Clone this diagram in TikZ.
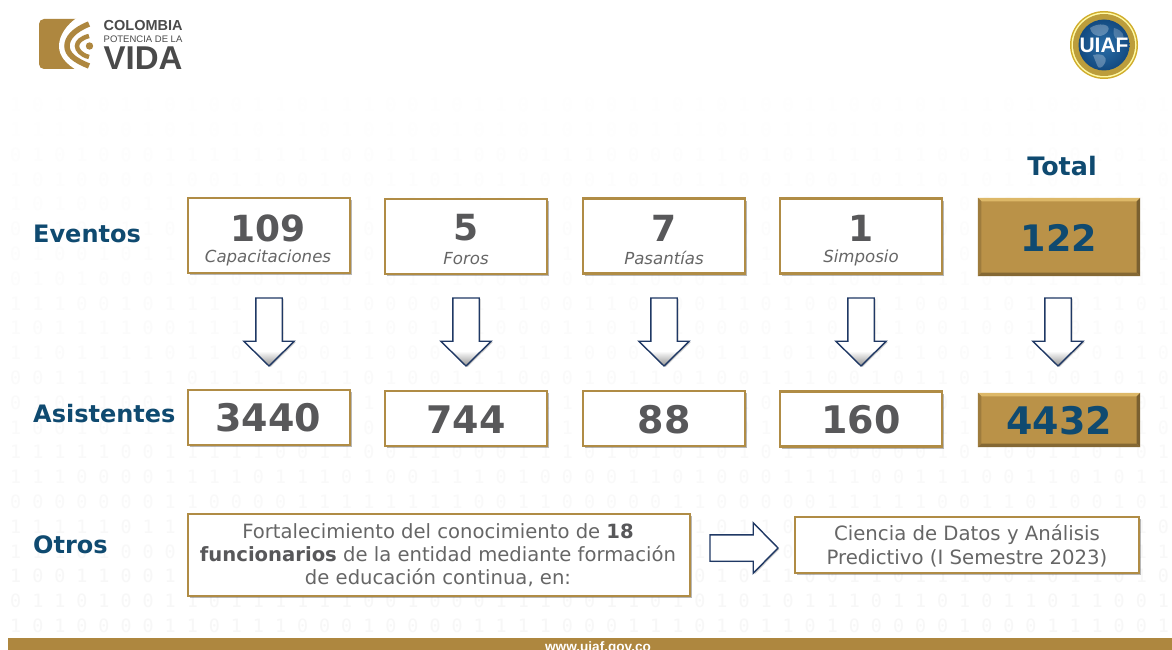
\documentclass[tikz,border=0pt]{standalone}
\usepackage{fontspec}
\setmainfont{DejaVu Sans}
\setmonofont{DejaVu Sans Mono}
\newfontfamily\logof{Liberation Sans}
\usetikzlibrary{shapes.arrows,shadows,calc}
\definecolor{gold}{HTML}{B08C45}
\definecolor{goldfill}{HTML}{BA9248}
\definecolor{goldtop}{HTML}{DDB868}
\definecolor{goldright}{HTML}{7A6030}
\definecolor{navy}{HTML}{0F4A70}
\definecolor{numgray}{HTML}{58585A}
\definecolor{capgray}{HTML}{666666}
\definecolor{arrowblue}{HTML}{1F3864}
\definecolor{logogray}{HTML}{4A4A4A}
\definecolor{logogold}{HTML}{AE873F}
\definecolor{sealin}{HTML}{2A6EA8}
\definecolor{sealout}{HTML}{134A80}
\pgfdeclareverticalshading{arrowshade}{100bp}{color(0bp)=(gray);color(25bp)=(gray!85);color(36bp)=(white);color(100bp)=(white)}
\newcommand{\fs}[1]{\fontsize{#1}{#1}\selectfont}
\tikzset{
  whitebox/.style={draw=gold,line width=2.6pt,fill=white,inner sep=0pt,
    general shadow={shadow xshift=2pt,shadow yshift=-2pt,fill=black,opacity=.28}},
  goldbox/.style={fill=goldfill,inner sep=0pt},
  sidelabel/.style={anchor=west,inner sep=0pt,text=navy,font=\bfseries\fs{24}},
  numtext/.style={inner sep=0pt,text=numgray,font=\bfseries\fs{36}},
  captext/.style={inner sep=0pt,text=capgray,font=\itshape\fs{16.6}},
  downarrow/.style={single arrow,shape border rotate=270,draw=arrowblue,line width=1.4pt,
    shading=arrowshade,minimum height=68pt,inner sep=12.5pt,
    single arrow head extend=12pt,single arrow tip angle=91,
    general shadow={shadow xshift=1.5pt,shadow yshift=-1pt,fill=black,opacity=.22}},
  bodytext/.style={inner sep=0pt,text=capgray,font=\fs{19.6},align=center},
  bgrow/.style={anchor=west,inner sep=0pt,font=\ttfamily\fs{18.33}},
}
\newcommand{\bevel}[1]{%
  \fill[goldtop] (#1.north west) -- (#1.north east) -- ($(#1.north east)+(-3.5,3.5)$) -- ($(#1.north west)+(3.5,3.5)$) -- cycle;
  \fill[goldfill!85!black] (#1.north west) -- ($(#1.north west)+(3.5,3.5)$) -- ($(#1.south west)+(3.5,-3.5)$) -- (#1.south west) -- cycle;
  \fill[goldright] (#1.north east) -- ($(#1.north east)+(-3.5,3.5)$) -- ($(#1.south east)+(-3.5,-3.5)$) -- (#1.south east) -- cycle;
  \fill[goldright!85!goldfill] (#1.south west) -- ($(#1.south west)+(3.5,-3.5)$) -- ($(#1.south east)+(-3.5,-3.5)$) -- (#1.south east) -- cycle;
}
\begin{document}
\begin{tikzpicture}[x=1pt,y=-1pt]
\useasboundingbox (0,0) rectangle (1172,650);
\fill[white] (0,0) rectangle (1172,650);
% faint binary background
\foreach \digits [count=\r from 0] in {
1 0 1 0 0 1 1 0 1 0 0 1 1 0 1 1 1 0 0 1 0 1 1 0 1 0 0 0 1 1 0 1 0 1 0 0 1 1 0 0 1 0 1 1 1 0 1 0 0 1 1 0 1,
1 1 1 1 0 0 1 0 1 0 1 0 1 1 0 1 0 1 0 0 1 0 1 0 1 0 1 0 0 1 1 1 0 1 0 1 1 0 1 1 0 0 1 1 0 1 1 1 1 0 1 1 0,
0 1 0 1 0 0 0 1 1 1 1 1 1 1 1 0 0 1 1 1 1 0 0 0 1 1 1 0 0 0 0 1 1 0 1 0 1 1 1 1 1 1 0 0 1 1 1 0 0 1 0 1 1,
1 0 1 0 0 0 0 1 0 0 1 1 0 0 1 0 0 1 1 0 1 0 1 1 0 0 0 1 0 1 0 1 1 0 0 1 0 0 1 0 1 1 0 1 0 1 1 0 0 1 1 1 0,
1 0 1 0 0 0 1 1 1 0 1 0 0 0 1 1 1 0 0 1 0 1 0 1 1 0 1 1 1 0 1 0 1 0 0 1 1 0 0 0 1 1 1 0 0 1 0 1 1 1 0 1 1,
0 0 1 0 1 1 1 0 1 0 0 1 1 0 1 1 0 1 0 1 0 0 1 1 1 0 1 0 0 1 1 0 1 0 0 0 1 0 1 1 0 1 0 0 0 1 1 0 1 0 1 1 1,
0 1 0 0 1 0 1 1 0 1 0 1 1 1 0 1 0 0 0 1 1 0 1 0 0 1 1 0 1 1 1 0 1 0 1 0 1 1 0 1 0 0 1 0 1 1 1 0 0 1 1 0 1,
0 1 0 1 0 0 0 1 0 1 0 0 0 0 0 0 1 0 1 1 1 0 0 0 0 0 0 1 1 0 0 0 1 1 1 0 1 1 0 0 1 1 1 1 0 0 1 1 1 1 0 1 1,
1 1 1 0 0 1 0 1 1 1 1 1 1 0 1 1 0 0 0 0 1 1 1 1 0 0 1 1 0 1 0 0 1 1 0 1 0 0 0 1 1 0 0 1 1 0 1 0 0 1 1 0 1,
1 0 1 1 1 1 0 0 1 1 1 1 1 1 0 1 1 0 0 1 0 1 0 0 0 1 1 0 1 0 1 0 0 0 0 1 1 0 1 1 1 0 0 1 0 0 1 1 0 1 0 1 1,
1 1 0 1 1 1 1 0 1 1 0 1 0 0 0 1 1 0 0 0 0 1 0 1 1 1 0 0 0 0 1 0 1 1 1 0 1 0 0 0 1 1 0 0 1 1 0 1 0 0 1 1 0,
0 0 1 1 1 1 1 1 0 1 1 1 1 0 1 1 0 1 0 0 1 1 1 0 0 0 1 0 1 1 0 1 0 0 1 1 1 0 0 1 0 1 1 0 1 1 1 0 0 1 0 1 0,
0 1 0 1 1 0 0 1 1 0 0 0 1 1 0 1 1 1 0 0 1 0 1 0 1 1 0 1 0 0 1 1 0 1 0 1 1 1 0 0 1 0 0 1 1 0 1 1 0 1 0 0 1,
1 0 0 1 0 1 1 1 0 1 0 0 1 1 0 1 0 0 1 1 1 0 1 0 0 1 0 1 1 0 0 1 1 0 1 0 0 1 0 1 1 0 1 1 0 0 1 0 1 1 0 1 0,
1 1 1 1 1 0 0 1 1 1 1 1 0 0 1 1 0 0 1 1 0 0 0 1 1 1 0 1 0 1 0 1 0 1 0 1 1 0 0 0 0 0 1 0 1 0 0 1 1 0 1 0 1,
1 1 1 0 0 0 0 1 1 1 1 0 1 1 1 0 1 0 0 1 1 1 0 1 0 0 0 0 1 1 0 1 0 0 0 1 1 1 1 0 0 1 1 1 0 0 1 1 0 1 0 1 1,
0 0 0 0 0 0 0 1 1 0 0 0 0 1 1 1 1 1 1 1 1 0 0 1 1 0 0 0 0 0 1 1 0 0 0 0 0 1 1 1 1 1 0 0 1 1 0 1 0 0 1 0 1,
1 1 1 1 1 0 1 1 0 1 1 0 0 1 0 1 0 1 1 0 0 0 1 0 1 1 1 0 0 1 0 1 0 1 1 0 1 0 0 1 1 1 0 1 0 1 1 0 1 1 0 1 0,
1 1 1 0 1 0 0 0 1 0 1 1 0 1 0 1 1 0 1 0 0 1 1 1 0 0 1 0 1 0 1 1 0 1 1 0 0 1 0 1 0 0 1 1 1 0 1 0 1 1 0 1 1,
1 0 0 1 1 0 0 1 0 1 1 1 0 1 1 0 1 0 0 1 0 1 1 1 0 1 0 1 1 0 0 0 1 0 1 1 0 0 1 1 0 1 1 1 0 0 1 0 1 1 0 1 0,
0 1 1 0 1 0 0 1 1 0 1 1 1 1 1 1 0 0 1 0 0 0 1 1 1 0 0 1 1 0 1 0 1 0 1 0 1 1 1 0 1 1 0 1 0 1 1 0 1 1 0 0 1,
1 0 1 0 0 0 0 1 1 0 1 1 1 0 0 0 1 0 0 0 0 1 1 1 1 0 0 0 1 1 1 0 1 0 1 1 0 1 0 0 0 0 0 1 0 0 0 1 1 1 0 0 1}
{
  \pgfmathsetmacro{\ink}{0.3+0.14*\r}
  \node[bgrow,text=black!\ink] (binrow\r) at (10,105+24.8*\r) {\digits};
}
% footer
\fill[logogold] (8,637.5) rectangle (1172,650);
\node[inner sep=0pt,anchor=base,text=white,font=\logof\bfseries\fs{13.6}] (web) at (598,651) {www.uiaf.gov.co};
% Colombia logo
\fill[logogold,rounded corners=5pt] (39,19) rectangle (89,69);
\fill[white] (78,17) .. controls (66,25) and (59,36) .. (59,46) .. controls (59,56) and (66,64) .. (78,71) -- (92,71) -- (92,17) -- cycle;
\draw[logogold,line width=5.5pt] (89,24) .. controls (74,30) and (67,38) .. (67,46) .. controls (67,54) and (74,60) .. (89,66);
\draw[logogold,line width=4.5pt] (89,36) .. controls (81,38) and (77,42) .. (77,46) .. controls (77,50) and (81,55) .. (89,57);
\fill[logogold] (89.5,46) circle (3.7);
\node[anchor=west,inner sep=0pt,text=logogray,font=\logof\bfseries\fs{14.5}] (col) at (103.5,26) {COLOMBIA};
\node[anchor=west,inner sep=0pt,text=logogray,font=\logof\fs{9.5}] (pot) at (103.5,39) {POTENCIA DE LA};
\node[anchor=west,inner sep=0pt,text=logogray,font=\logof\bfseries\fs{33}] (vida) at (103.5,58) {VIDA};
% UIAF seal
\fill[color=yellow!60!orange!80!black] (1104,45) circle (34);
\fill[color=yellow!35!white] (1104,45) circle (32.5);
\fill[color=gold!85!yellow] (1104,45) circle (31);
\shade[inner color=sealin,outer color=sealout] (1104,45) circle (25.5);
\fill[color=white,opacity=.28] (1090,28) .. controls (1098,22) and (1112,24) .. (1108,31) .. controls (1104,38) and (1092,38) .. (1090,28) -- cycle;
\fill[color=white,opacity=.28] (1093,55) .. controls (1102,53) and (1108,56) .. (1105,63) .. controls (1102,69) and (1098,69) .. (1097,65) -- cycle;
\fill[color=white,opacity=.22] (1114,28) .. controls (1122,30) and (1126,36) .. (1122,40) .. controls (1116,42) and (1112,36) .. (1114,28) -- cycle;
\node[inner sep=0pt,text=white,font=\logof\bfseries\fs{21}] (uiaf) at (1104,45) {UIAF};
% side labels
\node[sidelabel] (eventos) at (33,234) {Eventos};
\node[sidelabel] (asistentes) at (33,414) {Asistentes};
\node[sidelabel] (otros) at (33,545) {Otros};
\node[inner sep=0pt,text=navy,font=\bfseries\fs{25.4}] (total) at (1062,166) {Total};
% event boxes
\node[whitebox,minimum width=162pt,minimum height=75pt] (b1) at (269,235.5) {};
\node[whitebox,minimum width=162pt,minimum height=75pt] (b2) at (466,236.5) {};
\node[whitebox,minimum width=162pt,minimum height=75pt] (b3) at (664,236) {};
\node[whitebox,minimum width=162pt,minimum height=75pt] (b4) at (861,236) {};
\node[goldbox,minimum width=162pt,minimum height=78pt] (t1) at (1059,237) {};
\bevel{t1}
\node[inner sep=0pt,text=navy,font=\bfseries\fs{36.5}] (t1n) at (1059,238) {122};
\node[numtext] (n1) at (268,228) {109};
\node[captext] (c1) at (268,258) {Capacitaciones};
\node[numtext] (n2) at (466,228) {5};
\node[captext] (c2) at (466,259) {Foros};
\node[numtext] (n3) at (664,228) {7};
\node[captext] (c3) at (664,258) {Pasantías};
\node[numtext] (n4) at (861,228) {1};
\node[captext] (c4) at (861,258) {Simposio};
% attendee boxes
\node[whitebox,minimum width=162pt,minimum height=55pt] (a1) at (269,417.5) {};
\node[whitebox,minimum width=162pt,minimum height=55pt] (a2) at (466,418.5) {};
\node[whitebox,minimum width=162pt,minimum height=55pt] (a3) at (664,418.5) {};
\node[whitebox,minimum width=162pt,minimum height=55pt] (a4) at (861,419) {};
\node[goldbox,minimum width=162pt,minimum height=54pt] (t2) at (1059,420) {};
\bevel{t2}
\node[inner sep=0pt,text=navy,font=\bfseries\fs{38}] (t2n) at (1059,421) {4432};
\node[numtext,font=\bfseries\fs{38}] (m1) at (268,418) {3440};
\node[numtext,font=\bfseries\fs{38}] (m2) at (466,420) {744};
\node[numtext,font=\bfseries\fs{38}] (m3) at (664,420) {88};
\node[numtext,font=\bfseries\fs{38}] (m4) at (861,420) {160};
% block arrows
\node[downarrow] (d1) at (269,325.5) {};
\node[downarrow] (d2) at (466,325.5) {};
\node[downarrow] (d3) at (664,325.5) {};
\node[downarrow] (d4) at (861,325.5) {};
\node[downarrow] (d5) at (1058,325.5) {};
% others
\node[whitebox,minimum width=502pt,minimum height=82pt] (o1) at (439,555) {};
\node[bodytext] (o1t) at (438,555) {Fortalecimiento del conocimiento de {\bfseries\color{numgray}18}\\[3.4pt]{\bfseries\color{numgray}funcionarios} de la entidad mediante formación\\[3.4pt]de educación continua, en:};
\node[single arrow,draw=arrowblue,line width=1.4pt,fill=white,minimum height=68pt,inner sep=12.5pt,
  single arrow head extend=12pt,single arrow tip angle=91,
  general shadow={shadow xshift=1.5pt,shadow yshift=-1pt,fill=black,opacity=.22}] (r1) at (737.5,548) {};
\node[whitebox,line width=2.2pt,minimum width=344pt,minimum height=56pt] (o2) at (967,545) {};
\node[bodytext,font=\fs{19.7}] (o2t) at (967,546) {Ciencia de Datos y Análisis\\[4.3pt]Predictivo (I Semestre 2023)};
\end{tikzpicture}
\end{document}
